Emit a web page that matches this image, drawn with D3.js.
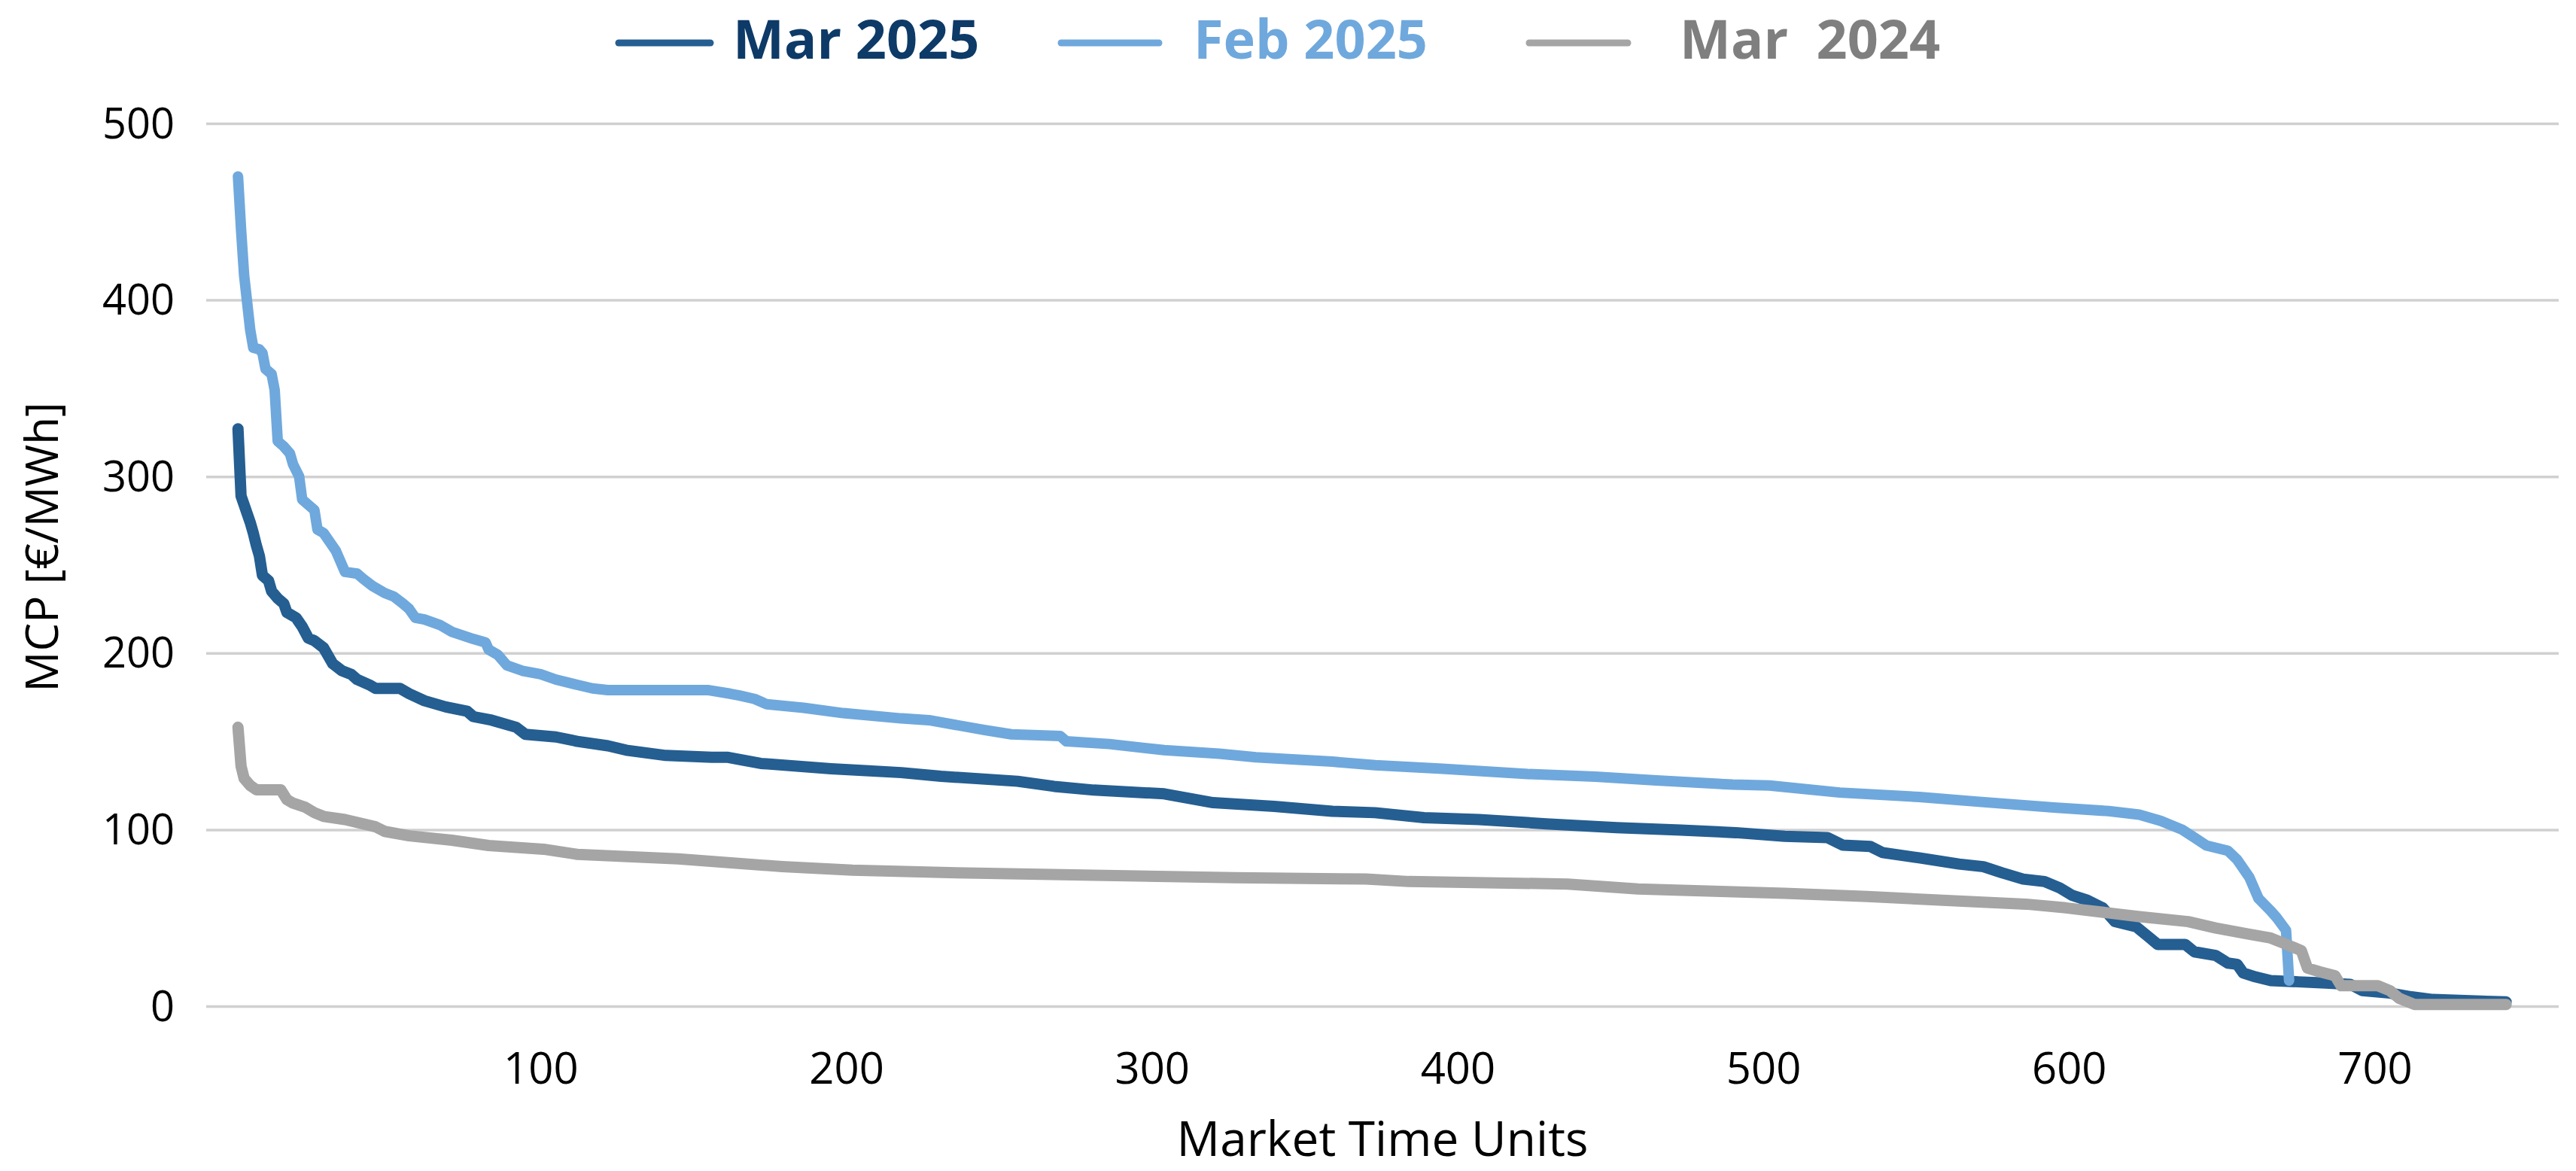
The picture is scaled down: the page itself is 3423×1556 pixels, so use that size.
<!DOCTYPE html>
<html>
<head>
<meta charset="utf-8">
<style>
  html, body { margin: 0; padding: 0; background: #fff; }
  svg text { font-family: "Segoe UI", "Open Sans", sans-serif; }
</style>
</head>
<body>
<div id="chart"></div>
<script src="https://cdn.jsdelivr.net/npm/d3@7.8.5/dist/d3.min.js"></script>
<script>
// price duration curves (rank of hour -> MCP)

const seriesNames = ["Mar 2025", "Feb 2025", "Mar  2024"];

const mar2025Rank  = [1, 2, 3, 5, 6, 7, 8, 9, 11, 12, 14, 16, 17, 20, 22, 24, 26, 29, 32, 35, 38, 40, 44, 46, 54, 57, 62, 69, 76, 78, 84, 92, 95, 105, 112, 122, 128, 141, 156, 161, 172, 195, 218, 231, 256, 268, 281, 304, 320, 340, 359, 373, 389, 407, 429, 452, 473, 491, 507, 521, 526, 535, 539, 551, 564, 572, 578, 585, 592, 597, 601, 606, 611, 615, 622, 626, 629, 638, 641, 648, 652, 655, 657, 661, 666, 675, 684, 692, 696, 705, 712, 719, 743];
const mar2025Price = [327, 289, 284, 274, 268, 261, 255, 244, 241, 235, 231, 228, 223, 220, 215, 208.5, 207, 203, 194, 190, 188, 185, 182, 180, 180, 177, 173, 169.5, 167, 164, 162, 158, 154, 152.5, 150, 147.5, 145, 142, 141, 141, 137.5, 134.5, 132.3, 130.2, 127.4, 124.5, 122.4, 120.3, 115.3, 113.2, 110.4, 109.6, 106.8, 105.7, 103.3, 101.1, 99.7, 98.3, 96.2, 95.5, 91.2, 90.5, 87, 84, 80.5, 79, 75.6, 72, 70.6, 67, 62.8, 60, 55.7, 48, 45, 39.3, 35, 35, 30.8, 28.7, 24.4, 23.7, 18.8, 16.6, 14.5, 13.8, 13.1, 12.4, 8.8, 7.4, 5.3, 3.8, 2.4];

const feb2025Rank  = [1, 2, 3, 5, 6, 8, 9, 10, 12, 13, 14, 16, 18, 19, 21, 22, 24, 26, 27, 29, 31, 33, 36, 40, 42, 45, 49, 52, 55, 57, 59, 62, 67, 71, 78, 82, 83, 86, 89, 94, 100, 105, 112, 117, 122, 155, 162, 165, 170, 174, 186, 199, 218, 227, 245, 254, 270, 272, 286, 304, 322, 334, 359, 373, 395, 423, 445, 464, 490, 502, 525, 551, 569, 595, 613, 623, 630, 637, 641, 645, 652, 655, 659, 662, 666, 668, 671, 672];
const feb2025Price = [470, 440, 414, 383, 373, 372, 370, 361, 358, 349, 320, 317, 313, 307, 300, 287, 284, 281, 270, 268, 263, 258, 246, 245, 242, 238, 234, 232, 228, 225, 220, 219, 216, 212, 208, 206, 202, 199, 193, 190, 188, 185, 182, 180, 179, 179, 177, 176, 174, 171, 169, 166, 163, 162, 156.5, 154, 153, 150, 148.5, 145, 143, 141, 138.5, 136.5, 134.5, 131.5, 130, 128, 125.5, 125, 121, 118.5, 116, 112.5, 110.5, 108.5, 105, 100, 95.5, 91, 88, 83, 73, 61, 54, 50, 43, 14.5];

const mar2024Rank  = [1, 2, 3, 5, 7, 15, 17, 19, 23, 26, 29, 36, 46, 49, 57, 71, 83, 101, 112, 145, 159, 179, 202, 236, 281, 327, 370, 384, 436, 459, 486, 507, 534, 560, 586, 599, 613, 623, 639, 648, 659, 666, 671, 676, 678, 682, 687, 689, 701, 705, 708, 713, 743];
const mar2024Price = [158, 136, 129, 125, 122.6, 122.6, 117, 115, 112.7, 109.6, 107.5, 105.7, 101.6, 99, 96.5, 94, 91, 88.9, 86, 83.4, 81.6, 79.1, 77, 75.6, 74.2, 72.8, 72, 70.6, 69.2, 66.4, 65, 63.9, 62.1, 59.9, 57.8, 55.7, 52.8, 50.7, 47.9, 44.3, 40.8, 38.6, 35.1, 31.5, 21.6, 19.5, 17.3, 11.6, 11.6, 8.8, 4.5, 1, 1];

const xTicks = [100, 200, 300, 400, 500, 600, 700];
const yTicks = [0, 100, 200, 300, 400, 500];

const lineColors = ["#255E91", "#6FA8DC", "#A5A5A5"];
const textColors = ["#0D3A67", "#6FA8DC", "#7F7F7F"];

const width = 3423;
const height = 1556;

const svg = d3.select("#chart").append("svg")
    .attr("width", width)
    .attr("height", height);

const x = d3.scaleLinear()
    .domain([-9.4, 760.2])
    .range([274, 3400]);

const y = d3.scaleLinear()
    .domain([0, 500])
    .range([1337, 164]);

// gridlines + y labels
const yAxis = svg.append("g")
    .attr("transform", "translate(274,0)")
    .call(d3.axisLeft(y).tickValues(yTicks).tickSize(-(3400 - 274)).tickPadding(42));
yAxis.select(".domain").remove();
yAxis.selectAll(".tick line")
    .attr("stroke", "#D0D0D0")
    .attr("stroke-width", 3.5);
yAxis.selectAll(".tick text")
    .attr("font-size", 56)
    .attr("fill", "#000")
    .attr("dy", "0.34em");

// x labels
const xAxis = svg.append("g")
    .attr("transform", "translate(0,1337)")
    .call(d3.axisBottom(x).tickValues(xTicks).tickSize(0));
xAxis.select(".domain").remove();
xAxis.selectAll(".tick text")
    .attr("font-size", 58)
    .attr("fill", "#000")
    .attr("y", 103)
    .attr("dy", 0);

// axis titles
svg.append("text")
    .attr("x", 1837)
    .attr("y", 1536)
    .attr("text-anchor", "middle")
    .attr("font-size", 64)
    .text("Market Time Units");

svg.append("text")
    .attr("transform", "translate(77,727) rotate(-90)")
    .attr("text-anchor", "middle")
    .attr("font-size", 60)
    .text("MCP [€/MWh]");

// lines
const series = [
    mar2025Rank.map((r, i) => ({rank: r, price: mar2025Price[i]})),
    feb2025Rank.map((r, i) => ({rank: r, price: feb2025Price[i]})),
    mar2024Rank.map((r, i) => ({rank: r, price: mar2024Price[i]}))
];
const lineWidths = [15, 14, 15];

const line = d3.line()
    .x(d => x(d.rank))
    .y(d => y(d.price));

svg.append("g").selectAll("path")
    .data(series)
    .join("path")
    .attr("d", line)
    .attr("fill", "none")
    .attr("stroke", (d, i) => lineColors[i])
    .attr("stroke-width", (d, i) => lineWidths[i])
    .attr("stroke-linejoin", "round")
    .attr("stroke-linecap", "round");

// legend
const legendSwatch = [[822, 944], [1410, 1540], [2032, 2163]];
const legendText = [974, 1586, 2232];

const legend = svg.append("g");
seriesNames.forEach((name, i) => {
    legend.append("line")
        .attr("x1", legendSwatch[i][0])
        .attr("x2", legendSwatch[i][1])
        .attr("y1", 57)
        .attr("y2", 57)
        .attr("stroke", lineColors[i])
        .attr("stroke-width", 9)
        .attr("stroke-linecap", "round");
    legend.append("text")
        .attr("x", legendText[i])
        .attr("y", 78)
        .attr("font-size", 72)
        .attr("font-weight", "bold")
        .attr("fill", textColors[i])
        .style("white-space", "pre")
        .text(name);
});
</script>
</body>
</html>
